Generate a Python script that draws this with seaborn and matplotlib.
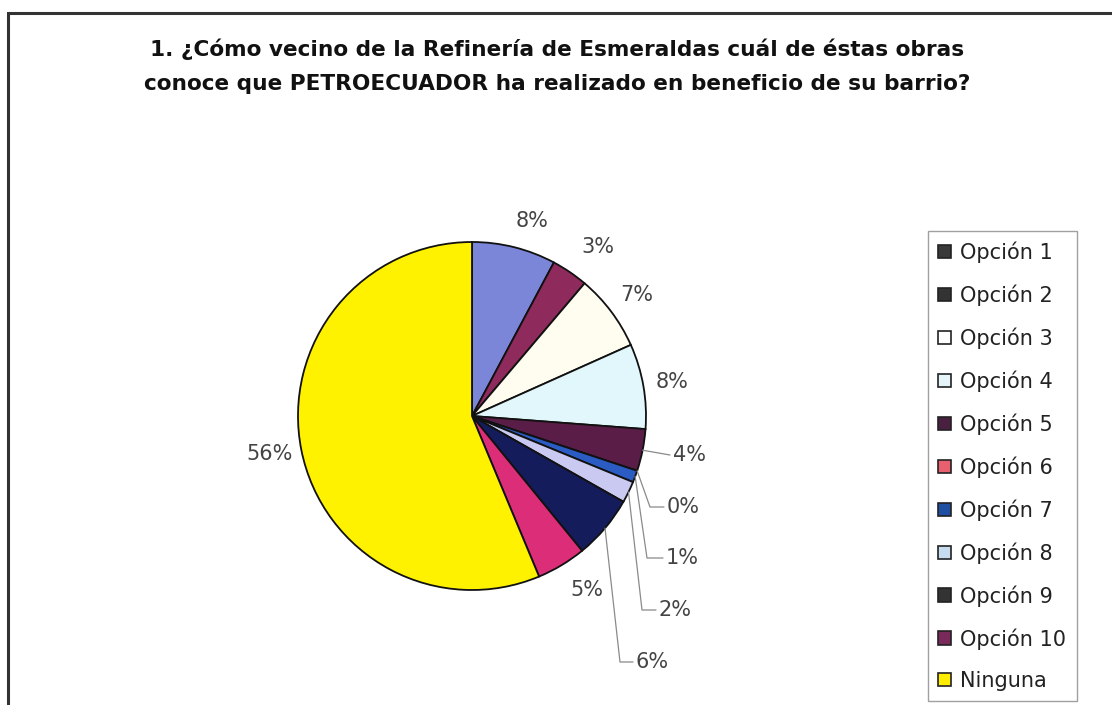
import numpy as np
import matplotlib
matplotlib.use("Agg")
import matplotlib.pyplot as plt
from matplotlib.patches import Patch, Rectangle
import seaborn as sns

# Survey answers (share of respondents, %)
categories = ["Opción 1", "Opción 2", "Opción 3", "Opción 4", "Opción 5",
              "Opción 6", "Opción 7", "Opción 8", "Opción 9", "Opción 10",
              "Ninguna"]
values = [7.8, 3.4, 7.1, 7.9, 3.9, 0.0, 1.1, 2.0, 5.9, 4.6, 56.3]

wedge_colors = ["#7b86d8", "#8e2a5c", "#fffdf0", "#e2f7fb", "#5a1d48",
                "#ff8080", "#2a5cc4", "#c9c9f2", "#141c5c", "#dc2d78",
                "#fff200"]
legend_colors = ["#3a3a3a", "#333333", "#ffffff", "#e4f4f8", "#4a2040",
                 "#e86070", "#1f4fa0", "#c8dcf0", "#333333", "#7a2a5a",
                 "#ffee00"]

title_lines = ["1. ¿Cómo vecino de la Refinería de Esmeraldas cuál de éstas obras",
               "conoce que PETROECUADOR ha realizado en beneficio de su barrio?"]

sns.set_theme(style="white")
plt.rcParams["font.family"] = ["DejaVu Sans"]

W, H = 1112, 705
fig = plt.figure(figsize=(W / 100, H / 100), dpi=100)
ax = fig.add_axes([0, 0, 1, 1])


def Y(y):
    return H - y


center = (472, Y(416))
radius = 174

ax.pie(values, colors=wedge_colors, startangle=90, counterclock=False,
       center=center, radius=radius, frame=True,
       wedgeprops=dict(edgecolor="#111111", linewidth=1.3))
ax.set_xlim(0, W)
ax.set_ylim(0, H)
ax.set_axis_off()

# label centres (pixels from top-left) and leader-line elbows
label_pos = [(532, 221), (598, 247), (637, 295), (672, 382), (689, 455),
             (683, 507), (682, 558), (675, 610), (652, 662), (587, 590),
             (270, 454)]
elbow_x = {4: None, 5: 650, 6: 647, 7: 642, 8: 620}

cum = np.cumsum([0] + values[:-1])
total = sum(values)
label_color = "#444444"
for i, v in enumerate(values):
    lx, ly = label_pos[i]
    ax.text(lx, Y(ly), f"{v:.0f}%", ha="center", va="center",
            fontsize=15, color=label_color)
    if i in elbow_x:
        mid = (cum[i] + v / 2) / total
        theta = np.deg2rad(90 - 360 * mid)
        px = center[0] + radius * np.cos(theta)
        py = center[1] + radius * np.sin(theta)
        end_x = lx - 19
        if elbow_x[i] is None:
            xs, ys = [px, end_x], [py, Y(ly)]
        else:
            xs = [px, elbow_x[i], end_x]
            ys = [py, Y(ly), Y(ly)]
        ax.plot(xs, ys, color="#8a8a8a", lw=0.9)

for line, base in zip(title_lines, (56, 90)):
    fig.text(557 / W, 1 - base / H, line, ha="center", va="baseline",
             fontsize=15.6, fontweight="bold", color="#111111")

handles = [Patch(facecolor=c, edgecolor="#222222", linewidth=1.2)
           for c in legend_colors]
leg = ax.legend(handles, categories, loc="upper left",
                bbox_to_anchor=(928 / W, 1 - 231 / H),
                bbox_transform=fig.transFigure, borderaxespad=0,
                fontsize=15, frameon=True, fancybox=False,
                labelspacing=1.03, handlelength=0.62, handleheight=0.62,
                handletextpad=0.42, borderpad=0.5)
leg.get_frame().set_edgecolor("#888888")
leg.get_frame().set_linewidth(1.0)
for t in leg.get_texts():
    t.set_color("#222222")

# chart border
fig.patches.append(Rectangle((8 / W, -0.02), 1.05, 1 - 13 / H + 0.02,
                             transform=fig.transFigure, fill=False,
                             edgecolor="#333333", linewidth=2.2))

fig.savefig("out.png", dpi=100)
